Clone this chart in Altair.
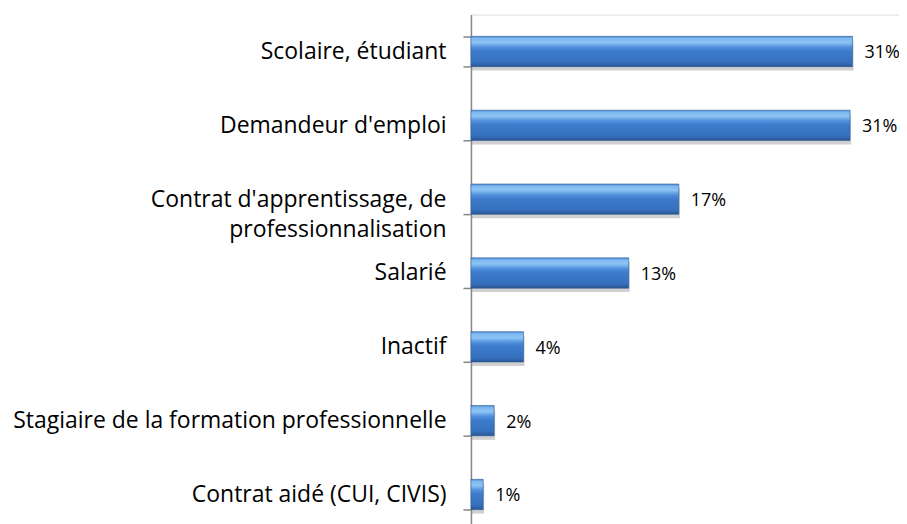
import altair as alt
import pandas as pd

categories = [
    "Scolaire, étudiant",
    "Demandeur d'emploi",
    "Contrat d'apprentissage, de\nprofessionnalisation",
    "Salarié",
    "Inactif",
    "Stagiaire de la formation professionnelle",
    "Contrat aidé (CUI, CIVIS)",
]
values = [31.2, 31.0, 17.0, 12.9, 4.3, 1.9, 1.0]
labels = ["31%", "31%", "17%", "13%", "4%", "2%", "1%"]

df = pd.DataFrame({"cat": categories, "val": values, "lab": labels})

y_enc = alt.Y(
    "cat:N",
    sort=categories,
    title=None,
    scale=alt.Scale(paddingInner=0.59, paddingOuter=0.295),
    axis=alt.Axis(
        tickBand="extent",
        tickSize=8,
        tickColor="#868686",
        tickWidth=1.5,
        domainColor="#868686",
        domainWidth=1.5,
        labelPadding=17,
        labelFont="Open Sans",
        labelFontSize=23,
        labelColor="#000000",
        labelLimit=600,
        labelLineHeight=30,
        labelExpr="split(datum.label, '\\n')",
    ),
)
x_enc = alt.X("val:Q", scale=alt.Scale(domain=[0, 35]), axis=None)

shadow = alt.Chart(df).mark_bar(color="#8a8a8a", opacity=0.4, yOffset=4, xOffset=1).encode(
    x=x_enc, y=y_enc
)

bars = alt.Chart(df).mark_bar(
    color=alt.Gradient(
        gradient="linear",
        x1=0, x2=0, y1=0, y2=1,
        stops=[
            alt.GradientStop(offset=0.0, color="#4f8ad6"),
            alt.GradientStop(offset=0.07, color="#7db8f0"),
            alt.GradientStop(offset=0.2, color="#8ec4f4"),
            alt.GradientStop(offset=0.36, color="#4f8fdc"),
            alt.GradientStop(offset=0.5, color="#3c7bcb"),
            alt.GradientStop(offset=0.85, color="#3670be"),
            alt.GradientStop(offset=0.95, color="#2f5fa4"),
            alt.GradientStop(offset=1.0, color="#284f88"),
        ],
    ),
    stroke="#2e5c98",
    strokeWidth=0.6,
).encode(x=x_enc, y=y_enc)

text = alt.Chart(df).mark_text(
    align="left", baseline="middle", dx=12, dy=2, font="Open Sans", fontSize=18, color="#000000"
).encode(x=x_enc, y=y_enc, text="lab:N")

chart = (
    alt.layer(shadow, bars, text)
    .properties(
        width=429,
        height=518,
        autosize=alt.AutoSizeParams(type="none"),
        padding={"left": 464, "top": 6, "right": 0, "bottom": 0},
    )
    .configure_view(strokeWidth=0, stroke="transparent")
    .configure(background="white")
)

chart.save("out.html", embed_options={"renderer": "svg", "actions": False})
